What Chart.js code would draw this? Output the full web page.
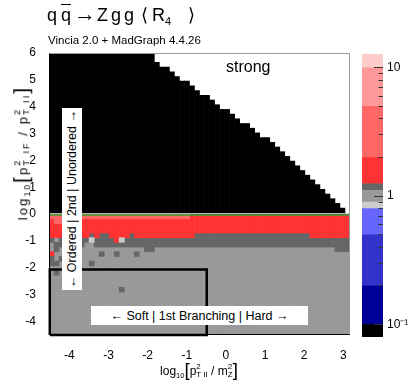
<!DOCTYPE html>
<html lang="en">
<head>
<meta charset="UTF-8">
<title>qqbar to Zgg R4</title>
<script src="https://cdn.jsdelivr.net/npm/chart.js@4"></script>
<style>
    body { margin: 0; background: #fff; font-family: "Liberation Sans", Arial, Helvetica, sans-serif; }
    #wrap { position: relative; width: 412px; height: 387px; overflow: hidden; background: #fff; }
    canvas { position: absolute; top: 0; }
    .txt { position: absolute; color: #000; white-space: nowrap; line-height: 1; }
    #title span { position: absolute; top: 0; }
    #title { left: 0; top: 6px; font-size: 18px; }
    #title .ov { text-decoration: overline; }
    #title .sb { font-size: 11px; top: 10px; }
    #title .arr { font-size: 22px; top: -3px; }
    #subtitle { left: 48px; top: 35px; font-size: 11.5px; }
    #strong { left: 226px; top: 59px; font-size: 16px; }
    .box { position: absolute; background: #fff; display: flex; align-items: center; justify-content: center; font-size: 12.5px; white-space: nowrap; }
    #ordered { left: 62px; top: 108px; width: 20px; height: 182px; }
    #ordered span { writing-mode: vertical-rl; transform: rotate(180deg); }
    #soft { left: 91px; top: 306px; width: 217px; height: 19px; }
    #frame { position: absolute; left: 49px; top: 53px; width: 301px; height: 282px; box-sizing: border-box;
             border-top: 1px solid #999; border-right: 1px solid #999; border-left: 1px solid #000; border-bottom: 1px solid #000; }
    .axt { font-size: 12px; transform: translate(-50%, -50%); }
    #xTitle { left: 199px; top: 370px; }
    #yTitle { left: 21px; top: 153px; font-size: 13px; letter-spacing: 2.1px; transform: translate(-50%, -50%) rotate(-90deg); }
    .lo { font-size: 7.5px; vertical-align: -3px; }
    .brk { font-size: 19px; vertical-align: -1px; }
    .ss { display: inline-block; font-size: 8px; line-height: 8px; vertical-align: -2px; }
    #yTitle .lo { font-size: 8.5px; }
    #yTitle .brk { font-size: 21px; }
    #yTitle .ss { font-size: 9px; line-height: 9px; }
    .ss span { display: block; }
</style>
</head>
<body>
<div id="wrap">
    <canvas id="heat" width="412" height="387" style="left:0"></canvas>
    <canvas id="cbar" width="62" height="387" style="left:350px"></canvas>
    <div id="frame"></div>
    <div class="txt" id="title"><span style="left:47px">q</span><span class="ov" style="left:61px">q</span><span class="arr" style="left:74px">→</span><span style="left:97px">Z</span><span style="left:111px">g</span><span style="left:124px">g</span><span style="left:141px">⟨</span><span style="left:152px">R</span><span class="sb" style="left:165px">4</span><span style="left:188px">⟩</span></div>
    <div class="txt" id="subtitle">Vincia 2.0 + MadGraph 4.4.26</div>
    <div class="txt" id="strong">strong</div>
    <div class="box" id="ordered"><span>← Ordered | 2nd | Unordered →</span></div>
    <div class="box" id="soft">← Soft | 1st Branching | Hard →</div>
    <div class="txt axt" id="xTitle">log<span class="lo">10</span><span class="brk">[</span>p<span class="ss"><span>2</span><span>T II</span></span> / m<span class="ss"><span>2</span><span>Z</span></span><span class="brk">]</span></div>
    <div class="txt axt" id="yTitle">log<span class="lo">10</span><span class="brk">[</span>p<span class="ss"><span>2</span><span>T IF</span></span> / p<span class="ss"><span>2</span><span>T II</span></span><span class="brk">]</span></div>
</div>

<script>
// axis ranges and ticks
const xMin = -4.52, xMax = 3.17;
const yMin = -4.5, yMax = 6;
const xTicks = [-4, -3, -2, -1, 0, 1, 2, 3];
const yTicks = [-4, -3, -2, -1, 0, 1, 2, 3, 4, 5, 6];

// 60 columns in log10(pT_II^2/mZ^2); band edges in log10(pT_IF^2/pT_II^2)
const blackTop = [6, 6, 6, 6, 6, 6, 6, 6, 6, 6, 6, 6, 6, 6, 6, 6, 6, 6, 6, 6, 6,
    5.65, 5.475, 5.475, 5.3, 5.125, 4.95, 4.95, 4.775, 4.6, 4.425, 4.425, 4.25, 4.075, 3.9, 3.9,
    3.725, 3.55, 3.375, 3.375, 3.2, 3.025, 2.85, 2.85, 2.675, 2.5, 2.325, 2.15, 1.975, 1.8, 1.625,
    1.45, 1.275, 1.1, 0.925, 0.75, 0.575, 0.4, 0.225, 0];
const pinkBottom = [-0.175, -0.35, -0.35, -0.175, -0.175, -0.175, -0.175, -0.175, -0.175, -0.175,
    -0.175, -0.175, -0.175, -0.175, -0.175, -0.175, -0.175, -0.175, -0.175, -0.175,
    -0.175, -0.175, -0.175, -0.175, -0.175, -0.175, -0.175, -0.175, 0, 0,
    0, 0, 0, 0, 0, 0, 0, 0, 0, 0, 0, 0, 0, 0, 0, 0, 0, 0, 0, 0,
    0, 0, 0, 0, 0, 0, 0, 0, 0, 0];
const redBottom = [-0.875, -0.875, -0.875, -0.875, -0.875, -0.875, -0.875, -0.875, -0.7, -0.875,
    -0.7, -0.7, -0.875, -1.05, -0.875, -0.875, -0.7, -0.875, -0.875, -0.875,
    -0.875, -0.875, -0.875, -0.875, -0.875, -0.875, -0.875, -0.875, -0.875, -0.7,
    -0.7, -0.7, -0.7, -0.7, -0.7, -0.7, -0.7, -0.7, -0.7, -0.7,
    -0.7, -0.7, -0.7, -0.7, -0.7, -0.7, -0.7, -0.7, -0.7, -0.7,
    -0.7, -0.7, -0.875, -0.875, -0.875, -0.875, -0.875, -0.875, -0.875, -0.875];
const darkBottom = [-1.05, -0.875, -1.225, -1.225, -1.225, -1.225, -1.225, -1.05, -0.875, -1.225,
    -1.225, -1.225, -1.225, -1.225, -1.225, -1.225, -1.225, -1.225, -1.225, -1.225,
    -1.225, -1.225, -1.225, -1.225, -1.225, -1.225, -1.225, -1.225, -1.225, -1.225,
    -1.225, -1.225, -1.225, -1.225, -1.225, -1.225, -1.225, -1.225, -1.225, -1.225,
    -1.225, -1.225, -1.225, -1.225, -1.225, -1.225, -1.225, -1.225, -1.225, -1.225,
    -1.225, -1.225, -1.225, -1.225, -1.225, -1.225, -1.225, -1.4, -1.4, -1.4];
// single cells: [column, low, high, colour]
const patches = [
    [0, -1.575, -1.4, 'red'], [0, -1.925, -1.575, 'dark'],
    [1, -1.4, -1.05, 'dark'], [1, -1.925, -1.75, 'dark'], [1, -2.275, -2.1, 'dark'],
    [2, -1.75, -1.575, 'dark'],
    [8, -1.05, -0.875, 'light'], [8, -1.925, -1.75, 'dark'],
    [10, -1.575, -1.4, 'dark'], [13, -1.575, -1.4, 'dark'],
    [14, -1.05, -0.875, 'light'], [14, -2.9, -2.725, 'dark'],
    [17, -1.575, -1.4, 'dark'], [19, -1.4, -1.225, 'dark'], [20, -1.4, -1.225, 'dark']
];
// "Soft | 1st Branching" region outline
const regionX = [-4.5, -0.49];
const regionY = [-4.5, -2.06];

// colour scale of <R4>
const cbEdges = [0.08, 0.1, 0.2, 0.5, 0.8, 0.9, 1.11, 1.25, 2, 5, 10, 12.8];
const cbColors = ['#000000', '#000099', '#3333cc', '#6666ff', '#cccccc', '#999999', '#666666',
    '#ff3333', '#ff6666', '#ff9999', '#ffcccc'];
const cbTicks = [0.1, 0.2, 0.3, 0.4, 0.5, 0.6, 0.7, 0.8, 0.9, 1, 2, 3, 4, 5, 6, 7, 8, 9, 10];
const cbLabels = { 0.1: '10\u207B\u00B9', 1: '1', 10: '10' };

const colors = { black: '#000000', pink: '#ff6666', red: '#ff3333', dark: '#666666', grey: '#999999', light: '#cccccc' };
const fontFamily = '"Liberation Sans", Arial, Helvetica, sans-serif';

const nCols = blackTop.length;
const colX = blackTop.map((_, i) => xMin + (i + 0.5) * (xMax - xMin) / nCols);

function band(lowFn, highFn) {
    return colX.map((x, i) => ({ x: x, y: [lowFn(i), highFn(i)] }))
        .filter(d => d.y[1] > d.y[0]);
}

function barSet(label, data, color, order) {
    return {
        type: 'bar', label: label, data: data, backgroundColor: color,
        grouped: false, barPercentage: 1, categoryPercentage: 1, order: order
    };
}

function lineSet(label, data, color, width) {
    return {
        type: 'line', label: label, data: data, borderColor: color, borderWidth: width,
        pointRadius: 0, fill: false, tension: 0, order: 0, clip: false
    };
}

const datasets = [
    lineSet('edge', [{ x: xMin, y: 0.02 }, { x: xMax, y: 0.02 }], '#c8c8c8', 1),
    lineSet('zero', [{ x: xMin, y: -0.035 }, { x: xMax, y: -0.035 }], '#2e9e2e', 1.5),
    lineSet('region', [
        { x: regionX[0], y: regionY[0] }, { x: regionX[0], y: regionY[1] },
        { x: regionX[1], y: regionY[1] }, { x: regionX[1], y: regionY[0] },
        { x: regionX[0], y: regionY[0] }], '#000000', 2.5),
    barSet('cells',
        patches.map(p => ({ x: colX[p[0]], y: [p[1], p[2]] })),
        patches.map(p => colors[p[3]]), 1),
    barSet('R4 2-5', band(i => pinkBottom[i], i => 0), colors.pink, 2),
    barSet('R4 < 0.1', band(i => 0, i => blackTop[i]), colors.black, 3),
    barSet('R4 1.25-2', band(i => redBottom[i], i => 0), colors.red, 3),
    barSet('R4 1.1-1.25', band(i => darkBottom[i], i => redBottom[i]), colors.dark, 3),
    barSet('R4 0.9-1.1', band(i => yMin, i => darkBottom[i]), colors.grey, 3)
];

new Chart(document.getElementById('heat'), {
    type: 'bar',
    data: { datasets: datasets },
    options: {
        responsive: false,
        animation: false,
        events: [],
        layout: { padding: { left: 0, top: 53, right: 62, bottom: 0 } },
        plugins: { legend: { display: false }, tooltip: { enabled: false } },
        scales: {
            x: {
                type: 'linear', min: xMin, max: xMax, offset: false,
                grid: { display: false }, border: { display: false },
                afterBuildTicks: s => { s.ticks = xTicks.map(v => ({ value: v })); },
                afterFit: s => { s.height = 52; },
                ticks: { color: '#000', padding: 5, maxRotation: 0, autoSkip: false,
                         font: { family: fontFamily, size: 12 } }
            },
            y: {
                type: 'linear', min: yMin, max: yMax,
                grid: { display: false }, border: { display: false },
                afterBuildTicks: s => { s.ticks = yTicks.map(v => ({ value: v })); },
                afterFit: s => { s.width = 49; },
                ticks: { color: '#000', padding: 5, autoSkip: false,
                         font: { family: fontFamily, size: 12 } }
            }
        }
    }
});

// colour bar
const cbSets = cbColors.map((c, i) => ({
    data: [[cbEdges[i], cbEdges[i + 1]]], backgroundColor: c,
    grouped: false, barPercentage: 1, categoryPercentage: 1
}));

new Chart(document.getElementById('cbar'), {
    type: 'bar',
    data: { labels: [''], datasets: cbSets },
    options: {
        responsive: false,
        animation: false,
        events: [],
        layout: { padding: { left: 12, top: 54, right: 0, bottom: 50 } },
        plugins: { legend: { display: false }, tooltip: { enabled: false } },
        scales: {
            x: { display: false },
            y: {
                type: 'logarithmic', position: 'right', min: cbEdges[0], max: cbEdges[cbEdges.length - 1],
                border: { display: false },
                grid: {
                    display: true, drawOnChartArea: false, drawTicks: true, tickLength: -9, z: 1,
                    tickColor: '#333', tickWidth: 1,
                    tickBorderDash: ctx => (ctx.tick && cbLabels[ctx.tick.value] !== undefined) ? [] : [4.5, 30]
                },
                afterBuildTicks: s => { s.ticks = cbTicks.map(v => ({ value: v })); },
                afterFit: s => { s.width = 29; },
                ticks: {
                    color: '#000', padding: 13, autoSkip: false,
                    font: { family: fontFamily, size: 12 },
                    callback: v => cbLabels[v] !== undefined ? cbLabels[v] : ''
                }
            }
        }
    }
});
</script>
</body>
</html>
